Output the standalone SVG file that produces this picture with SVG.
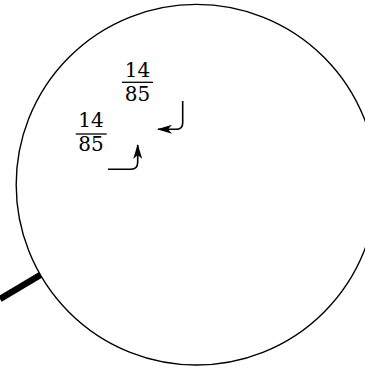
<svg xmlns="http://www.w3.org/2000/svg" width="365" height="370" viewBox="0 0 365 370">
<style>
.t{font-family:"DejaVu Serif",serif;font-size:20px;fill:#000;text-anchor:middle}
.fr{stroke:#000;stroke-width:1.3}
.c{fill:none;stroke:#000;stroke-width:1.6}
</style>
<defs>
<marker id="ah" viewBox="0 0 15 9" refX="14" refY="4.5" markerWidth="15" markerHeight="9" markerUnits="userSpaceOnUse" orient="auto">
<path d="M0,0 L15,4.5 L0,9 L4,4.5 Z" fill="#000"/>
</marker>
</defs>
<rect width="365" height="370" fill="#fff"/>
<g id="lens">
<line x1="0" y1="299" x2="42" y2="274" stroke="#000" stroke-width="6.5"/>
<circle cx="196.5" cy="184.7" r="180.3" fill="#fff" stroke="#000" stroke-width="1.4"/>
</g>
<g id="frac1">
<text class="t" x="137.5" y="77.3">14</text>
<line class="fr" x1="122" y1="82.3" x2="153" y2="82.3"/>
<text class="t" x="137.5" y="100.7">85</text>
</g>
<g id="frac2">
<text class="t" x="91" y="127.3">14</text>
<line class="fr" x1="75.7" y1="134" x2="106.7" y2="134"/>
<text class="t" x="91" y="151">85</text>
</g>
<g id="connectors">
<path class="c" d="M182.7,101 L182.7,123 Q182.7,129.3 176,129.3 L158,129.3" marker-end="url(#ah)"/>
<path class="c" d="M108,169.3 L131,169.3 Q137.7,169.3 137.7,162 L137.7,145" marker-end="url(#ah)"/>
</g>
</svg>
